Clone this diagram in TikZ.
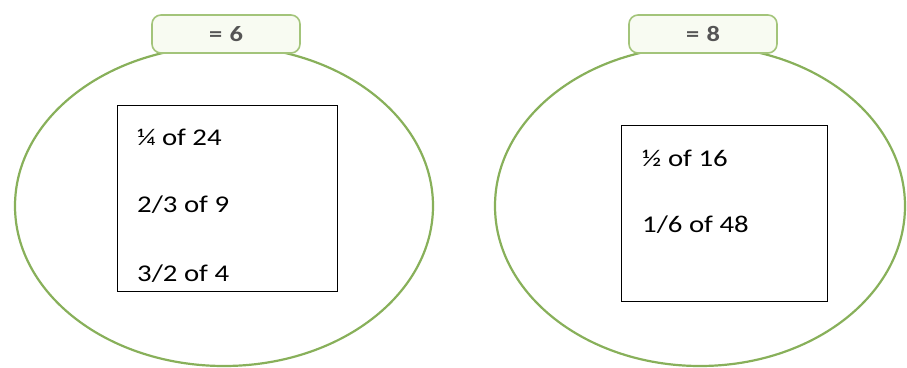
\documentclass[tikz,border=0pt]{standalone}
\usepackage{fontspec}
\setmainfont{Carlito}[FakeStretch=1.2]
\usetikzlibrary{shapes.geometric}
\definecolor{ringgreen}{HTML}{88B05A}
\definecolor{tabgreen}{HTML}{A3C47A}
\definecolor{tabfill}{HTML}{F8FBF2}
\definecolor{tabtext}{HTML}{555555}
\tikzset{
  ring/.style={ellipse, draw=ringgreen, line width=2.2pt, inner sep=0pt},
  tab/.style={rectangle, rounded corners=9pt, draw=tabgreen, line width=1.6pt, fill=tabfill,
              minimum width=148pt, minimum height=38pt, inner sep=0pt,
              font=\fontsize{22}{26}\selectfont\bfseries, text=tabtext},
  qbox/.style={rectangle, draw=black, line width=1pt, inner sep=0pt},
  qtext/.style={anchor=base west, inner sep=0pt, font=\fontsize{24}{28}\selectfont}
}
\begin{document}
\begin{tikzpicture}[x=1pt,y=-1pt]
\useasboundingbox (0,0) rectangle (907,367);
% left ring
\node[ring, minimum width=418pt, minimum height=320pt] (ringL) at (224,206) {};
\node[tab] (tabL) at (226,34) {=\,\,6};
\node[qbox, minimum width=220pt, minimum height=186pt] (boxL) at (227,198) {};
\node[qtext] (l1) at (137,145) {¼ of 24};
\node[qtext] (l2) at (137,212) {2/3 of 9};
\node[qtext] (l3) at (137,281) {3/2 of 4};
% right ring
\node[ring, minimum width=410pt, minimum height=320pt] (ringR) at (700,206) {};
\node[tab] (tabR) at (703,34) {=\,\,8};
\node[qbox, minimum width=206pt, minimum height=176pt] (boxR) at (724,213) {};
\node[qtext] (r1) at (642,166) {½ of 16};
\node[qtext] (r2) at (642,232) {1/6 of 48};
\end{tikzpicture}
\end{document}
